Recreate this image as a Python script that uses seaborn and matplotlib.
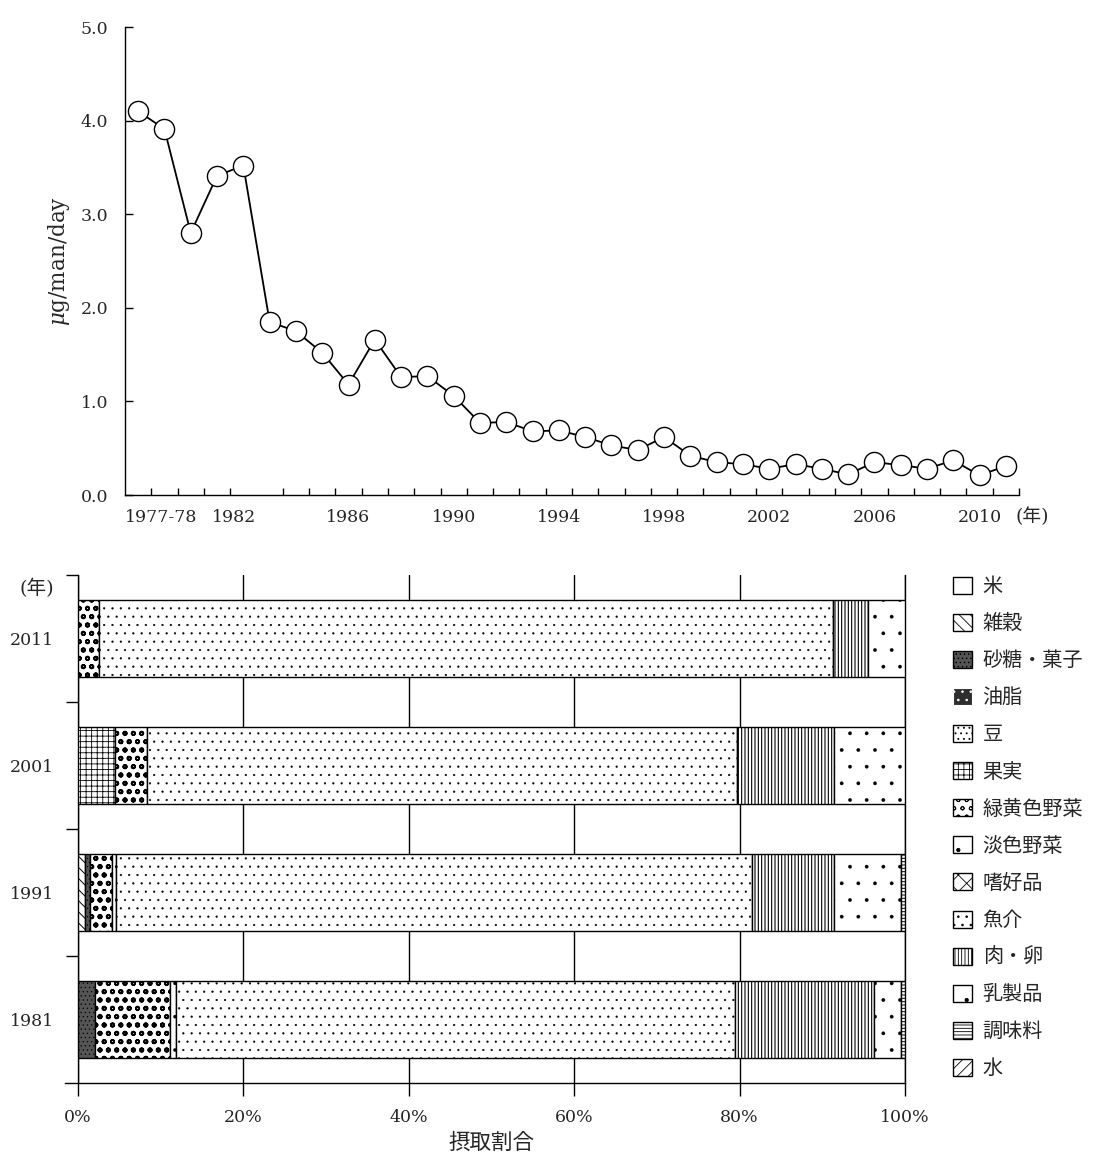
"""
ダイオキシン類一日摂取量の経年変化と食品群別寄与率
"""

import numpy as np
import matplotlib
matplotlib.use('Agg')
import matplotlib.pyplot as plt
from matplotlib.patches import Patch
import seaborn as sns

# 上段: 一日摂取量 (μg/man/day)
survey_years = ['1977-78', '1979', '1980', '1981', '1982', '1983', '1984', '1985',
                '1986', '1987', '1988', '1989', '1990', '1991', '1992', '1993',
                '1994', '1995', '1996', '1997', '1998', '1999', '2000', '2001',
                '2002', '2003', '2004', '2005', '2006', '2007', '2008', '2009',
                '2010', '2011']
intake = [4.10, 3.91, 2.80, 3.41, 3.52, 1.85, 1.75, 1.52, 1.18, 1.66, 1.26, 1.27,
          1.06, 0.77, 0.78, 0.68, 0.69, 0.62, 0.53, 0.48, 0.62, 0.42, 0.35, 0.33,
          0.28, 0.33, 0.28, 0.22, 0.35, 0.32, 0.28, 0.37, 0.21, 0.31]
labelled_years = ['1977-78', '1982', '1986', '1990', '1994', '1998', '2002', '2006', '2010']
y_ticks = [0.0, 1.0, 2.0, 3.0, 4.0, 5.0]

# 下段: 食品群別摂取割合 (%)
food_groups = ['米', '雑穀', '砂糖・菓子', '油脂', '豆', '果実', '緑黄色野菜', '淡色野菜',
               '嗜好品', '魚介', '肉・卵', '乳製品', '調味料', '水']
bar_years = ['2011', '2001', '1991', '1981']
share_2011 = [0, 0, 0, 0, 0, 0, 2.5, 0, 0, 88.8, 4.2, 4.5, 0, 0]
share_2001 = [0, 0, 0, 0, 0, 4.5, 3.9, 0, 0, 71.3, 11.7, 8.6, 0, 0]
share_1991 = [0, 0.9, 0.6, 0, 0, 0, 2.6, 0.5, 0, 76.9, 9.9, 8.1, 0.5, 0]
share_1981 = [0, 0, 2.1, 0, 0, 0, 9.0, 0.75, 0, 67.55, 16.9, 3.2, 0.5, 0]
pct_ticks = [0, 20, 40, 60, 80, 100]

# 食品群ごとの塗り (facecolor, hatch, hatch linewidth)
# hatch 1文字あたり 6本/inch (dpi=100 で約17px間隔)
group_styles = [
    ('white', '', 0.6),
    ('white', '\\\\\\', 0.7),
    ('#555555', '....', 0.4),
    ('#2e2e2e', '', 0.6),
    ('white', '...', 0.6),
    ('white', '+++', 0.6),
    ('white', 'oo', 1.3),
    ('white', '.', 0.15),
    ('white', 'xx', 0.7),
    ('white', '..', 0.35),
    ('white', '|||||', 0.8),
    ('white', '.', 0.25),
    ('white', '-----', 0.7),
    ('white', '///', 0.7),
]

sns.set_theme(style='white')
plt.rcParams['font.family'] = ['DejaVu Serif', 'Noto Sans CJK JP']
plt.rcParams['mathtext.fontset'] = 'dejavuserif'
plt.rcParams['hatch.color'] = 'black'
plt.rcParams['hatch.linewidth'] = 0.6

JP = ['Noto Sans CJK JP', 'DejaVu Sans']
YEAR_MARK = ['DejaVu Serif', 'Noto Sans CJK JP']

fig = plt.figure(figsize=(10.99, 11.56), dpi=100)

# ---- 上段 折れ線 ----
ax1 = fig.add_axes([125 / 1099, 1 - 495 / 1156, 894 / 1099, 468 / 1156])
x_idx = np.arange(len(survey_years))
sns.lineplot(x=x_idx, y=intake, ax=ax1, color='black', linewidth=1.3,
             marker='o', markersize=14.5, markerfacecolor='white',
             markeredgecolor='black', markeredgewidth=1.0)
ax1.set_xlim(-0.5, len(survey_years) - 0.5)
ax1.set_ylim(0, 5.0)
for s in ['top', 'right']:
    ax1.spines[s].set_visible(False)
for s in ['left', 'bottom']:
    ax1.spines[s].set_color('black')
    ax1.spines[s].set_linewidth(1.0)

ax1.set_yticks(y_ticks)
ax1.set_yticklabels([f'{v:.1f}' for v in y_ticks])
ax1.tick_params(axis='y', direction='in', length=6, width=1, color='black',
                labelsize=12.5, pad=12, left=True)

# 年の目盛 (点と点の間)
ax1.set_xticks(np.arange(0.5, len(survey_years), 1.0), minor=True)
tick_pos = [survey_years.index(y) for y in labelled_years]
tick_pos[0] = -0.5
tick_pos[1] = tick_pos[1] + 0.5
ax1.set_xticks(tick_pos)
ax1.set_xticklabels(labelled_years)
ax1.tick_params(axis='x', which='minor', direction='in', length=5, width=1,
                color='black', bottom=True)
ax1.tick_params(axis='x', which='major', length=0, labelsize=12.5, pad=10, bottom=True)
xt = ax1.get_xticklabels()
xt[0].set_ha('left')
xt[1].set_ha('right')
ax1.set_xlabel('')
ax1.set_ylabel(r'$\mu$g/man/day', fontsize=15.5, labelpad=6)
fig.text(1032 / 1099, 1 - 517 / 1156, '(年)', family=YEAR_MARK, fontsize=13.5,
         ha='center', va='center')

# ---- 下段 積み上げ横棒 ----
ax2 = fig.add_axes([78 / 1099, 1 - 1083 / 1156, 827 / 1099, 508 / 1156])
shares = np.array([share_2011, share_2001, share_1991, share_1981])
y_idx = np.arange(len(bar_years))
left = np.zeros(len(bar_years))
for g, name in enumerate(food_groups):
    fc, hatch, hlw = group_styles[g]
    widths = shares[:, g]
    mask = widths > 0
    if mask.any():
        bars = ax2.barh(y_idx[mask], widths[mask], left=left[mask], height=0.6,
                        color=fc, edgecolor='black', linewidth=1.0, hatch=hatch,
                        zorder=3)
        for b in bars:
            if hasattr(b, 'set_hatch_linewidth'):
                b.set_hatch_linewidth(hlw)
    left += widths

ax2.set_xlim(0, 100)
ax2.set_ylim(len(bar_years) - 0.5, -0.5)
ax2.set_xticks(pct_ticks)
ax2.set_xticklabels([f'{p}%' for p in pct_ticks])
ax2.grid(axis='x', color='black', linewidth=1.0, zorder=0)
ax2.grid(axis='y', visible=False)
ax2.set_axisbelow(True)
ax2.set_yticks(y_idx)
ax2.set_yticklabels(bar_years)
ax2.set_yticks(np.arange(-0.5, len(bar_years) - 1, 1.0), minor=True)
ax2.tick_params(axis='y', which='major', length=0, labelsize=12.5, pad=17, left=True)
ax2.tick_params(axis='y', which='minor', direction='out', length=9, width=1,
                color='black', left=True)
ax2.tick_params(axis='x', direction='out', length=9, width=1, color='black',
                labelsize=12.5, pad=10, bottom=True)
ax2.spines['top'].set_visible(False)
for s in ['left', 'bottom', 'right']:
    ax2.spines[s].set_color('black')
    ax2.spines[s].set_linewidth(1.0)
ax2.spines['bottom'].set_bounds(-1.6, 100)
ax2.set_xlabel('摂取割合', family=JP, fontsize=15.5, labelpad=4)
fig.text(54 / 1099, 1 - 588 / 1156, '(年)', family=YEAR_MARK, fontsize=14,
         ha='right', va='center')

# 凡例
handles = []
for g, name in enumerate(food_groups):
    fc, hatch, hlw = group_styles[g]
    if name == '油脂':
        h = Patch(facecolor=fc, edgecolor='white', hatch='..', linewidth=0.8)
    else:
        h = Patch(facecolor=fc, edgecolor='black', hatch=hatch, linewidth=1.0)
    if hasattr(h, 'set_hatch_linewidth'):
        h.set_hatch_linewidth(hlw)
    handles.append(h)
leg = fig.legend(handles, food_groups, loc='upper left',
                 bbox_to_anchor=(953 / 1099, 1 - 576 / 1156), frameon=False,
                 prop={'family': JP, 'size': 14.5}, handlelength=0.92,
                 handleheight=0.92, handletextpad=0.55, labelspacing=0.8,
                 borderpad=0, borderaxespad=0)

fig.savefig('out.png', dpi=100)
